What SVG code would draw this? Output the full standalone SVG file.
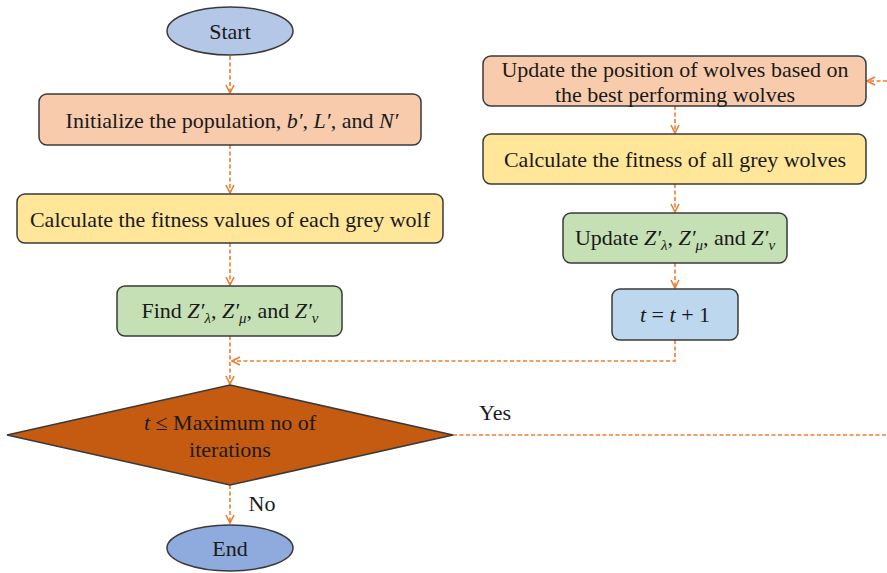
<svg xmlns="http://www.w3.org/2000/svg" width="887" height="573" viewBox="0 0 887 573">
<defs>
<style>
.box{stroke:#3a3a3a;stroke-width:1.5}
.t{font-family:"Liberation Serif","Times New Roman",serif;font-size:22px;fill:#1a1a1a;text-anchor:middle}
.i{font-style:italic}
.s{font-style:italic;font-size:15px}
.c{fill:none;stroke:#ed7d31;stroke-width:1.6;stroke-dasharray:4 2.5}
.salmon{fill:#f8cbad}.yellow{fill:#ffe699}.green{fill:#c5e0b4}.blue{fill:#bdd7ee}
</style>
<marker id="ah" viewBox="0 0 10 10" refX="9" refY="5" markerWidth="10" markerHeight="10" markerUnits="userSpaceOnUse" orient="auto">
<path d="M1,1 L9,5 L1,9" fill="none" stroke="#ed7d31" stroke-width="1.6"/>
</marker>
</defs>
<rect width="887" height="573" fill="#ffffff"/>
<g id="connectors">
<line class="c" x1="230" y1="56" x2="230" y2="93" marker-end="url(#ah)"/>
<line class="c" x1="230" y1="145" x2="230" y2="193" marker-end="url(#ah)"/>
<line class="c" x1="230" y1="243" x2="230" y2="285" marker-end="url(#ah)"/>
<line class="c" x1="230" y1="336" x2="230" y2="384" marker-end="url(#ah)"/>
<polyline class="c" points="675,340 675,361 232,361" marker-end="url(#ah)"/>
<line class="c" x1="230" y1="485" x2="230" y2="523" marker-end="url(#ah)"/>
<line class="c" x1="453" y1="435" x2="887" y2="435"/>
<line class="c" x1="887" y1="81" x2="867" y2="81" marker-end="url(#ah)"/>
<line class="c" x1="675" y1="106" x2="675" y2="133" marker-end="url(#ah)"/>
<line class="c" x1="675" y1="184" x2="675" y2="212" marker-end="url(#ah)"/>
<line class="c" x1="675" y1="263" x2="675" y2="288" marker-end="url(#ah)"/>
<text class="t" x="495" y="420">Yes</text>
<text class="t" x="262" y="511">No</text>
</g>
<g id="start">
<ellipse class="box" cx="230" cy="31" rx="63" ry="24" fill="#b4c7e7"/>
<text class="t" x="230" y="39">Start</text>
</g>
<g id="init">
<rect class="box salmon" x="39" y="94" width="382" height="51" rx="8"/>
<text class="t" x="232" y="128">Initialize the population, <tspan class="i">b′</tspan>, <tspan class="i">L′</tspan>, and <tspan class="i">N′</tspan></text>
</g>
<g id="calc1">
<rect class="box yellow" x="17" y="194" width="426" height="49" rx="8"/>
<text class="t" x="230" y="227">Calculate the fitness values of each grey wolf</text>
</g>
<g id="find">
<rect class="box green" x="117" y="286" width="225" height="50" rx="8"/>
<text class="t" x="230" y="318">Find <tspan class="i">Z′</tspan><tspan class="s" dy="5">λ</tspan><tspan dy="-5">, </tspan><tspan class="i">Z′</tspan><tspan class="s" dy="5">μ</tspan><tspan dy="-5">, and </tspan><tspan class="i">Z′</tspan><tspan class="s" dy="5">ν</tspan></text>
</g>
<g id="decision">
<polygon class="box" points="230,385 453,435 230,485 7,435" fill="#c55a11"/>
<text class="t" x="230" y="430"><tspan class="i">t</tspan> ≤ Maximum no of</text>
<text class="t" x="230" y="457">iterations</text>
</g>
<g id="end">
<ellipse class="box" cx="230" cy="548" rx="63" ry="23" fill="#8faadc"/>
<text class="t" x="230" y="556">End</text>
</g>
<g id="update-pos">
<rect class="box salmon" x="483" y="56" width="383" height="50" rx="8"/>
<text class="t" x="675" y="77">Update the position of wolves based on</text>
<text class="t" x="675" y="102">the best performing wolves</text>
</g>
<g id="calc2">
<rect class="box yellow" x="483" y="134" width="383" height="50" rx="8"/>
<text class="t" x="675" y="167">Calculate the fitness of all grey wolves</text>
</g>
<g id="update-z">
<rect class="box green" x="563" y="213" width="224" height="50" rx="8"/>
<text class="t" x="675" y="245">Update <tspan class="i">Z′</tspan><tspan class="s" dy="5">λ</tspan><tspan dy="-5">, </tspan><tspan class="i">Z′</tspan><tspan class="s" dy="5">μ</tspan><tspan dy="-5">, and </tspan><tspan class="i">Z′</tspan><tspan class="s" dy="5">ν</tspan></text>
</g>
<g id="increment">
<rect class="box blue" x="612" y="289" width="126" height="51" rx="8"/>
<text class="t" x="675" y="322"><tspan class="i">t</tspan> = <tspan class="i">t</tspan> + 1</text>
</g>
</svg>
